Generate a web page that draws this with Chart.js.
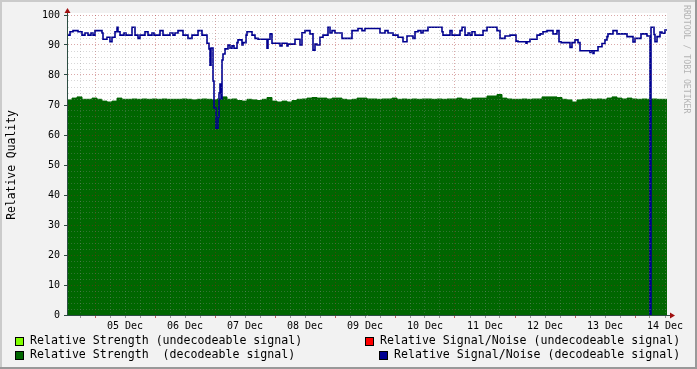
<!DOCTYPE html>
<html>
<head>
<meta charset="utf-8">
<script src="https://cdn.jsdelivr.net/npm/chart.js@4.4.1/dist/chart.umd.min.js"></script>
<style>
  html, body { margin: 0; padding: 0; background: #f2f2f2; }
</style>
</head>
<body>
<canvas id="qualityChart" width="697" height="369"></canvas>
<script>
// x axis is in hours counted from 04 Dec 00:00
var startHour = 12.8;
var endHour = 252.8;
var dayLabels = ['05 Dec', '06 Dec', '07 Dec', '08 Dec', '09 Dec', '10 Dec', '11 Dec', '12 Dec', '13 Dec', '14 Dec'];

// relative strength (decodeable), one value every 2 hours from startHour
var strengthStep = 2;
var strength = [
  71.7, 72.3, 72.7, 71.9, 71.9, 72.3, 71.9, 71.3, 71.0, 71.3,
  72.3, 71.9, 71.9, 72.0, 71.9, 72.0, 71.9, 72.0, 71.9, 72.0,
  71.9, 71.9, 71.9, 72.0, 71.9, 71.7, 71.9, 72.0, 71.9, 71.7,
  72.0, 72.7, 71.9, 72.0, 71.5, 71.3, 71.9, 71.7, 71.5, 71.9,
  72.5, 71.3, 71.0, 71.3, 71.0, 71.5, 71.9, 72.0, 72.3, 72.5,
  72.3, 72.3, 72.0, 72.3, 72.3, 71.9, 71.7, 71.9, 72.3, 72.3,
  72.0, 72.0, 71.9, 72.0, 72.0, 72.3, 71.9, 72.0, 71.9, 72.0,
  71.9, 72.0, 72.0, 71.9, 72.0, 71.9, 72.0, 72.0, 72.3, 72.0,
  71.9, 72.3, 72.3, 72.3, 73.0, 73.0, 73.5, 72.3, 72.0, 71.9,
  71.9, 72.0, 71.9, 72.0, 72.0, 72.7, 72.7, 72.7, 72.5, 71.9,
  71.7, 71.0, 71.7, 71.9, 72.0, 71.9, 72.0, 71.9, 72.3, 72.7,
  72.3, 72.0, 72.3, 72.0, 71.9, 72.0, 71.9, 72.0, 71.9, 71.9
];

// relative signal/noise (decodeable): hour where the value changes, new value
var snrHours = [
  12.8, 14.0, 15.2, 17.2, 18.8, 20.0, 21.2, 22.4, 23.2, 24.0,
  26.8, 27.2, 28.8, 30.0, 30.8, 32.0, 32.8, 33.2, 34.0, 35.6,
  36.4, 38.8, 40.0, 41.2, 42.0, 44.0, 45.2, 46.8, 47.6, 50.0,
  51.2, 54.0, 55.2, 56.0, 57.2, 59.2, 61.2, 62.8, 65.2, 66.8,
  68.8, 69.6, 70.0, 70.4, 71.2, 71.6, 72.4, 73.2, 73.6, 74.0,
  74.4, 74.8, 75.2, 76.0, 77.2, 78.0, 78.8, 79.6, 80.8, 81.2,
  82.8, 83.2, 84.4, 84.8, 86.8, 88.0, 89.2, 92.8, 93.2, 94.0,
  94.8, 98.0, 98.8, 100.8, 101.2, 104.0, 106.0, 106.8, 108.0, 110.0,
  111.2, 112.0, 112.8, 114.0, 115.2, 117.2, 118.0, 118.8, 120.0, 122.8,
  126.8, 129.2, 130.8, 132.0, 138.0, 140.0, 141.2, 143.2, 145.2, 147.2,
  148.8, 151.2, 152.0, 153.2, 154.4, 155.2, 157.2, 162.8, 163.2, 166.0,
  166.8, 170.0, 170.8, 172.0, 173.2, 174.0, 174.8, 176.0, 179.2, 180.8,
  184.8, 186.0, 188.0, 190.0, 192.4, 193.2, 196.4, 196.8, 198.0, 200.8,
  202.0, 203.2, 204.8, 207.2, 208.8, 209.6, 210.4, 214.0, 214.8, 216.0,
  217.2, 218.0, 222.0, 222.4, 223.2, 223.6, 225.2, 226.8, 228.0, 228.8,
  229.2, 231.2, 232.8, 236.8, 239.2, 240.0, 242.4, 244.8, 246.0, 246.4,
  247.6, 248.0, 248.8, 250.0, 250.8, 252.0, 252.8
];
var snrValues = [
  93.3, 94.4, 94.8, 94.4, 93.3, 94.0, 93.3, 94.0, 93.3, 94.8,
  94.0, 91.9, 92.6, 91.1, 92.6, 94.4, 95.9, 94.4, 93.3, 94.0,
  93.3, 95.9, 93.3, 92.2, 93.3, 94.4, 93.3, 94.0, 93.3, 94.8,
  93.3, 94.0, 93.3, 94.0, 94.8, 93.3, 92.2, 93.3, 94.8, 93.3,
  90.6, 88.7, 83.3, 89.0, 78.0, 69.0, 62.3, 66.0, 74.0, 77.0,
  72.0, 85.0, 87.0, 88.7, 90.0, 88.9, 89.7, 88.9, 90.8, 91.7,
  90.0, 90.8, 93.3, 94.4, 93.3, 92.2, 91.9, 88.9, 91.9, 93.7,
  90.6, 89.7, 90.6, 89.7, 90.3, 91.9, 90.0, 94.1, 94.8, 93.7,
  88.3, 90.3, 90.0, 92.6, 93.3, 95.9, 94.0, 94.8, 94.0, 92.2,
  94.8, 95.5, 94.8, 95.5, 94.0, 94.8, 94.0, 93.3, 92.6, 91.1,
  93.0, 92.2, 94.4, 94.8, 94.0, 94.8, 95.9, 94.4, 93.3, 94.8,
  93.3, 94.8, 95.9, 93.3, 94.0, 93.3, 94.4, 93.3, 94.8, 95.9,
  94.8, 92.2, 93.0, 93.3, 91.3, 91.1, 90.6, 91.1, 91.9, 93.3,
  93.7, 94.4, 94.8, 93.7, 94.8, 91.1, 90.8, 89.2, 90.8, 91.7,
  90.8, 88.1, 87.5, 88.1, 87.2, 88.1, 89.4, 90.5, 91.7, 92.8,
  93.7, 94.8, 93.7, 92.8, 91.0, 92.2, 93.7, 93.0, 0, 95.9,
  93.5, 91.1, 92.8, 94.3, 93.9, 95.0, 95.0
];

var seriesLabels = [
  'Relative Strength (undecodeable signal)',
  'Relative Signal/Noise (undecodeable signal)',
  'Relative Strength  (decodeable signal)',
  'Relative Signal/Noise (decodeable signal)'
];
var seriesColors = ['#80ff00', '#ff0000', '#006600', '#000090'];

var strengthPoints = strength.map(function (v, i) {
  return { x: startHour + i * strengthStep, y: v };
});
strengthPoints.push({ x: endHour, y: strength[strength.length - 1] });

var snrPoints = snrHours.map(function (h, i) {
  return { x: h, y: snrValues[i] };
});

// grid every 6 hours, midnight lines are major
var gridHours = [];
for (var h = 18; h < endHour; h += 6) gridHours.push(h);

var gridMinor = 'rgba(140,140,140,0.35)';
var gridMajor = 'rgba(160,30,30,0.38)';
var axisColor = '#2c4d43';
var monoFont = "'DejaVu Sans Mono', 'Liberation Mono', monospace";

var rrdDecor = {
  id: 'rrdDecor',
  beforeDraw: function (chart) {
    var ctx = chart.ctx, a = chart.chartArea;
    var w = chart.width, hgt = chart.height;
    ctx.save();
    ctx.fillStyle = '#f2f2f2';
    ctx.fillRect(0, 0, w, hgt);
    ctx.fillStyle = '#cbcbcb';
    ctx.fillRect(0, 0, w, 2);
    ctx.fillRect(0, 0, 2, hgt);
    ctx.fillStyle = '#999999';
    ctx.fillRect(0, hgt - 2, w, 2);
    ctx.fillRect(w - 2, 0, 2, hgt);
    ctx.fillStyle = '#ffffff';
    ctx.fillRect(a.left, a.top - 2, a.right - a.left, a.bottom - a.top + 2);
    ctx.restore();
  },
  afterDraw: function (chart) {
    var ctx = chart.ctx, a = chart.chartArea;
    ctx.save();
    // axis extensions and arrows
    ctx.strokeStyle = axisColor;
    ctx.lineWidth = 1;
    ctx.beginPath();
    ctx.moveTo(a.left + 0.5, a.top);
    ctx.lineTo(a.left + 0.5, a.top - 3);
    ctx.moveTo(a.right, a.bottom + 0.5);
    ctx.lineTo(a.right + 3, a.bottom + 0.5);
    ctx.stroke();
    ctx.fillStyle = '#a01010';
    ctx.beginPath();
    ctx.moveTo(a.left + 0.5, a.top - 7);
    ctx.lineTo(a.left - 2.5, a.top - 2);
    ctx.lineTo(a.left + 3.5, a.top - 2);
    ctx.closePath();
    ctx.fill();
    ctx.beginPath();
    ctx.moveTo(a.right + 8, a.bottom + 0.5);
    ctx.lineTo(a.right + 3, a.bottom - 2.5);
    ctx.lineTo(a.right + 3, a.bottom + 3.5);
    ctx.closePath();
    ctx.fill();

    // legend
    var spots = [[15, 30, 341], [365, 380, 341], [15, 30, 355], [379, 394, 355]];
    ctx.font = '11.6px ' + monoFont;
    ctx.textBaseline = 'middle';
    ctx.textAlign = 'left';
    chart.data.datasets.forEach(function (ds, i) {
      var s = spots[i];
      ctx.fillStyle = ds.legendColor;
      ctx.fillRect(s[0], s[2] - 4, 8, 8);
      ctx.strokeStyle = '#000';
      ctx.strokeRect(s[0] + 0.5, s[2] - 3.5, 8, 8);
      ctx.fillStyle = '#000';
      ctx.fillText(ds.label, s[1], s[2]);
    });

    // watermark
    ctx.translate(686, 5);
    ctx.rotate(Math.PI / 2);
    ctx.font = '8.2px ' + monoFont;
    ctx.fillStyle = '#b4b4b4';
    ctx.textBaseline = 'middle';
    ctx.fillText('RRDTOOL / TOBI OETIKER', 0, 0);
    ctx.restore();
  }
};

var ctx = document.getElementById('qualityChart').getContext('2d');
var qualityChart = new Chart(ctx, {
  type: 'line',
  data: {
    datasets: [{
      label: seriesLabels[0],
      data: [],
      legendColor: seriesColors[0],
      order: 2
    }, {
      label: seriesLabels[1],
      data: [],
      legendColor: seriesColors[1],
      order: 3
    }, {
      label: seriesLabels[2],
      data: strengthPoints,
      legendColor: seriesColors[2],
      order: 1,
      stepped: true,
      fill: 'origin',
      backgroundColor: seriesColors[2],
      borderColor: seriesColors[2],
      borderWidth: 1,
      pointRadius: 0
    }, {
      label: seriesLabels[3],
      data: snrPoints,
      legendColor: seriesColors[3],
      order: 0,
      stepped: true,
      fill: false,
      borderColor: seriesColors[3],
      borderWidth: 1.6,
      pointRadius: 0
    }]
  },
  options: {
    responsive: false,
    animation: false,
    devicePixelRatio: 1,
    layout: { padding: { left: 0, top: 15, right: 30, bottom: 0 } },
    plugins: {
      legend: { display: false },
      tooltip: { enabled: false }
    },
    scales: {
      x: {
        type: 'linear',
        min: startHour,
        max: endHour,
        afterBuildTicks: function (scale) {
          scale.ticks = gridHours.map(function (v) { return { value: v }; });
        },
        afterFit: function (scale) {
          scale.height = 54;
          scale.paddingLeft = 0;
          scale.paddingRight = 0;
        },
        ticks: {
          autoSkip: false,
          maxRotation: 0,
          padding: 2,
          color: '#000',
          font: { family: monoFont, size: 10 },
          callback: function (v) {
            var r = Math.round(v);
            return r % 24 === 12 ? dayLabels[(r - 36) / 24] : '';
          }
        },
        grid: {
          z: 1,
          color: function (c) { return Math.round(c.tick.value) % 24 === 0 ? gridMajor : gridMinor; },
          tickColor: function (c) { return Math.round(c.tick.value) % 24 === 0 ? '#c06060' : '#999'; },
          tickLength: 3
        },
        border: { display: true, z: 2, color: axisColor, width: 1, dash: [1, 2] }
      },
      y: {
        min: 0,
        max: 100,
        afterFit: function (scale) {
          scale.width = 67;
          scale.paddingTop = 0;
          scale.paddingBottom = 0;
        },
        ticks: {
          stepSize: 2,
          autoSkip: false,
          padding: 4,
          color: '#000',
          font: { family: monoFont, size: 10 },
          callback: function (v) { return v % 10 === 0 ? v : ''; }
        },
        grid: {
          z: 1,
          color: function (c) { return c.tick.value % 10 === 0 ? gridMajor : gridMinor; },
          tickColor: function (c) { return c.tick.value % 10 === 0 ? axisColor : 'rgba(0,0,0,0)'; },
          tickLength: 3
        },
        border: { display: true, z: 2, color: axisColor, width: 1, dash: [1, 2] },
        title: {
          display: true,
          text: 'Relative Quality',
          color: '#000',
          font: { family: monoFont, size: 11.4 },
          padding: { top: 5, bottom: 0 }
        }
      }
    }
  },
  plugins: [rrdDecor]
});
</script>
</body>
</html>
